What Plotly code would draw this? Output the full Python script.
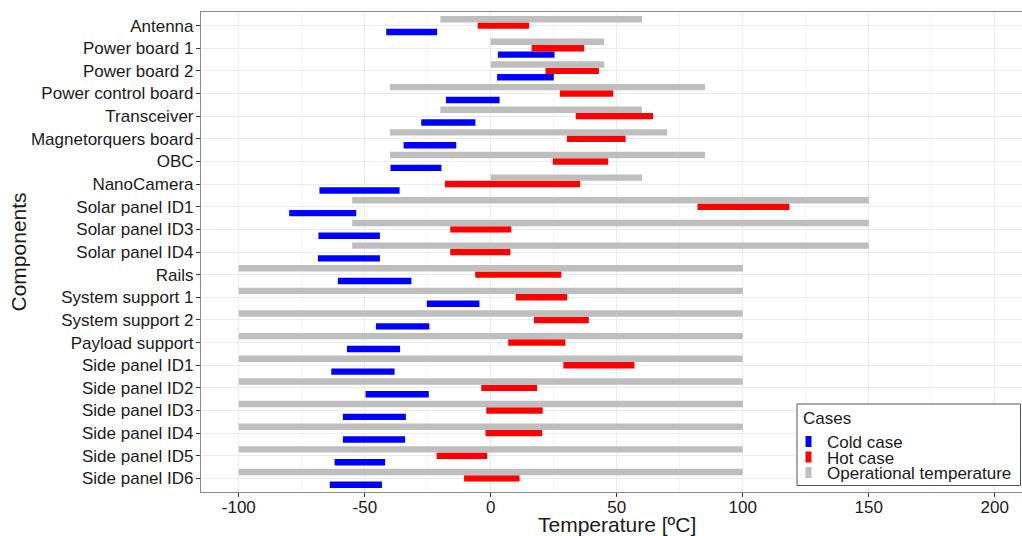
import plotly.graph_objects as go

# Components, listed top to bottom
components = [
    "Antenna", "Power board 1", "Power board 2", "Power control board",
    "Transceiver", "Magnetorquers board", "OBC", "NanoCamera",
    "Solar panel ID1", "Solar panel ID3", "Solar panel ID4", "Rails",
    "System support 1", "System support 2", "Payload support",
    "Side panel ID1", "Side panel ID2", "Side panel ID3", "Side panel ID4",
    "Side panel ID5", "Side panel ID6",
]

# Operational temperature limits [ºC]
op_low = [-20, 0, 0, -40, -20, -40, -40, 0, -55, -55, -55, -100,
          -100, -100, -100, -100, -100, -100, -100, -100, -100]
op_high = [60, 45, 45, 85, 60, 70, 85, 60, 150, 150, 150, 100,
           100, 100, 100, 100, 100, 100, 100, 100, 100]

# Hot case temperature range [ºC]
hot_low = [-5.2, 16.2, 21.7, 27.4, 33.7, 30.2, 24.6, -18.2, 82.0, -16.1, -16.1,
           -6.2, 9.9, 17.1, 6.9, 28.8, -3.8, -1.8, -2.1, -21.5, -10.6]
hot_high = [15.2, 37.1, 42.9, 48.6, 64.4, 53.5, 46.6, 35.5, 118.5, 8.1, 7.8,
            28.0, 30.3, 38.9, 29.6, 57.0, 18.4, 20.6, 20.4, -1.4, 11.4]

# Cold case temperature range [ºC]
cold_low = [-41.5, 2.8, 2.5, -17.8, -27.6, -34.6, -39.8, -68.0, -80.0, -68.4,
            -68.6, -60.7, -25.4, -45.6, -57.1, -63.3, -49.7, -58.7, -58.7,
            -62.0, -63.9]
cold_high = [-21.3, 25.3, 25.0, 3.5, -6.1, -13.7, -19.6, -36.2, -53.4, -44.0,
             -44.0, -31.5, -4.5, -24.4, -36.0, -38.2, -24.6, -33.7, -34.0,
             -41.9, -43.2]

x_ticks = [-100, -50, 0, 50, 100, 150, 200]
x_tick_labels = ["-100", "-50", "0", "50", "100", "150", "200"]

case_names = ["Cold case", "Hot case", "Operational temperature"]
case_colors = ["#0000FF", "#FF0000", "#BEBEBE"]

FONT = "Arial, Liberation Sans, sans-serif"
TEXT = "#1a1a1a"

W, H = 1022, 536
ML, MR, MT, MB = 201, 0, 12, 44
PW, PH = W - ML - MR, H - MT - MB


def px_x(p):
    """Horizontal pixel position -> paper fraction."""
    return (p - ML) / PW


def px_y(p):
    """Vertical pixel position (from top) -> paper fraction."""
    return (H - MB - p) / PH


def span(lo, hi):
    return [h - l for l, h in zip(lo, hi)]


fig = go.Figure()
ranges = [(cold_low, cold_high), (hot_low, hot_high), (op_low, op_high)]
for name, color, (lo, hi) in zip(case_names, case_colors, ranges):
    fig.add_trace(go.Bar(
        y=components, x=span(lo, hi), base=lo, orientation="h",
        name=name, marker=dict(color=color, line=dict(width=0)),
        showlegend=False,
    ))

# Legend panel in the lower-right corner of the plot
shapes = [dict(type="rect", xref="paper", yref="paper",
               x0=px_x(797), x1=px_x(1020.5), y0=px_y(485.5), y1=px_y(404),
               fillcolor="white", line=dict(color="#555555", width=1),
               layer="above")]
annotations = [dict(text="Cases", x=px_x(800.5), y=px_y(418), xref="paper",
                    yref="paper", xanchor="left", yanchor="middle",
                    showarrow=False, font=dict(size=17, color=TEXT))]
for i, (name, color) in enumerate(zip(case_names, case_colors)):
    cy = 441.5 + 15.5 * i
    shapes.append(dict(type="rect", xref="paper", yref="paper",
                       x0=px_x(805.5), x1=px_x(811.5),
                       y0=px_y(cy + 5.5), y1=px_y(cy - 5.5),
                       fillcolor=color, line=dict(width=0), layer="above"))
    annotations.append(dict(text=name, x=px_x(825), y=px_y(cy + 1),
                            xref="paper", yref="paper", xanchor="left",
                            yanchor="middle", showarrow=False,
                            font=dict(size=17, color=TEXT)))

annotations += [
    dict(text="Temperature [ºC]", x=50, xref="x", y=px_y(524.5),
         yref="paper", xanchor="center", yanchor="middle", showarrow=False,
         font=dict(size=21, color=TEXT)),
    dict(text="Components", x=px_x(17.5), xref="paper", y=0.5, yref="paper",
         textangle=-90, xanchor="center", yanchor="middle",
         showarrow=False, font=dict(size=21, color=TEXT)),
]

fig.update_layout(
    width=W, height=H,
    margin=dict(l=ML, r=MR, t=MT, b=MB),
    paper_bgcolor="white", plot_bgcolor="white",
    barmode="group", bargap=0.15, bargroupgap=0,
    font=dict(family=FONT, color=TEXT, size=17),
    showlegend=False,
    xaxis=dict(
        range=[-115, 210.8], tickvals=x_ticks, ticktext=x_tick_labels,
        showgrid=True, gridcolor="#EBEBEB", gridwidth=1,
        minor=dict(dtick=25, tick0=0, showgrid=True, gridcolor="#F4F4F4",
                   gridwidth=0.6),
        zeroline=False, showline=True, mirror=True, linecolor="#8a8a8a",
        linewidth=1.2, ticks="outside", ticklen=4, tickcolor="#333333",
        ticklabelstandoff=-5,
        tickfont=dict(size=17, color=TEXT),
    ),
    yaxis=dict(
        type="category", categoryorder="array",
        categoryarray=components[::-1], range=[-0.6, 20.6],
        showgrid=True, gridcolor="#EBEBEB", gridwidth=1,
        zeroline=False, showline=True, mirror=False, linecolor="#8a8a8a",
        linewidth=1.2, ticks="outside", ticklen=4, tickcolor="#333333",
        ticklabelstandoff=-1,
        tickfont=dict(size=17, color=TEXT),
    ),
    shapes=shapes,
    annotations=annotations,
)

fig.write_html("out.html")
